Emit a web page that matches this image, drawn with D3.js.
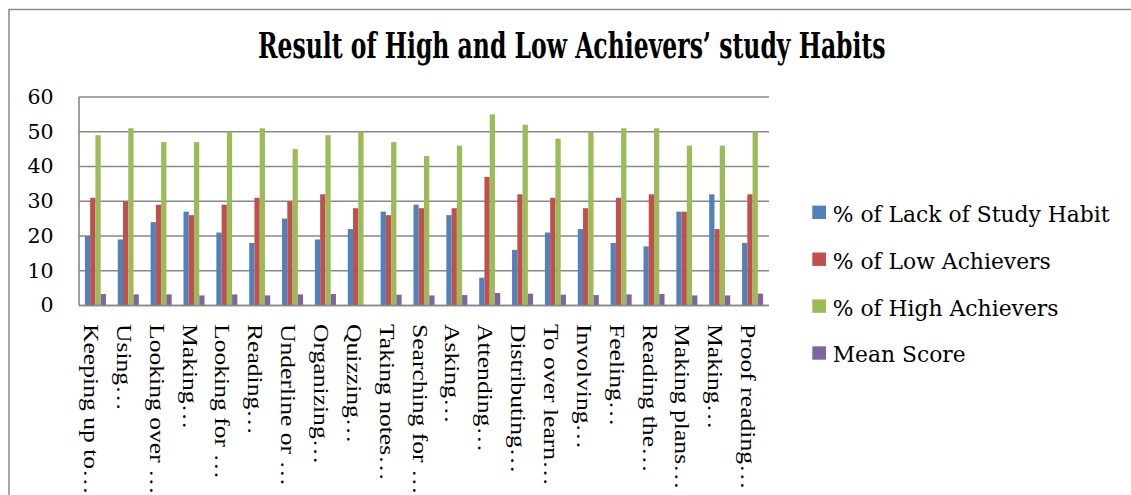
<!DOCTYPE html>
<html>
<head>
<meta charset="utf-8">
<script src="https://cdn.jsdelivr.net/npm/d3@7/dist/d3.min.js"></script>
<style>
  html, body { margin: 0; padding: 0; background: #fff; }
  svg { display: block; }
</style>
</head>
<body>
<svg id="chart" width="1131" height="495"></svg>
<script>
// Study-habit statements (truncated as in the axis)
const categories = [
  "Keeping up to…", "Using…", "Looking over …", "Making…", "Looking for …",
  "Reading…", "Underline or …", "Organizing…", "Quizzing…", "Taking notes…",
  "Searching for …", "Asking…", "Attending…", "Distributing…", "To over learn…",
  "Involving…", "Feeling…", "Reading the…", "Making plans…", "Making…",
  "Proof reading…"
];

const seriesNames = [
  "% of Lack of Study Habit",
  "% of Low Achievers",
  "% of High Achievers",
  "Mean Score"
];

const lackOfHabit = [20, 19, 24, 27, 21, 18, 25, 19, 22, 27, 29, 26, 8, 16, 21, 22, 18, 17, 27, 32, 18];
const lowAchievers = [31, 30, 29, 26, 29, 31, 30, 32, 28, 26, 28, 28, 37, 32, 31, 28, 31, 32, 27, 22, 32];
const highAchievers = [49, 51, 47, 47, 50, 51, 45, 49, 50, 47, 43, 46, 55, 52, 48, 50, 51, 51, 46, 46, 50];
const meanScore = [3.3, 3.2, 3.2, 2.9, 3.2, 2.9, 3.2, 3.3, null, 3.1, 2.9, 3.0, 3.6, 3.4, 3.1, 3.0, 3.2, 3.3, 2.9, 2.9, 3.4];

const yTicks = [0, 10, 20, 30, 40, 50, 60];

const colors = ["#4F81BD", "#C0504D", "#9BBB59", "#8064A2"];
const seriesValues = [lackOfHabit, lowAchievers, highAchievers, meanScore];

const svg = d3.select("#chart");
const serif = "'DejaVu Serif', 'Liberation Serif', serif";
const labelSerif = "'Liberation Serif', 'Times New Roman', serif";

// chart frame (left and top edges)
svg.append("path")
  .attr("d", "M9,495 V9.5 H1131")
  .attr("fill", "none")
  .attr("stroke", "#8a8a8a")
  .attr("stroke-width", 1.5);

// title, condensed to the heading width
const title = svg.append("text")
  .attr("x", 0).attr("y", 0)
  .attr("font-family", serif)
  .attr("font-weight", "bold")
  .attr("font-size", 35)
  .attr("fill", "#000")
  .text("Result of High and Low Achievers\u2019 study Habits");
{
  const w = title.node().getComputedTextLength();
  const k = 628 / w;
  title.attr("transform", `translate(${572 - 314},58.3) scale(${k},1)`);
}

const plot = { left: 79, right: 769, top: 97, bottom: 305.5 };

const x0 = d3.scaleBand()
  .domain(categories.map((d, i) => i))
  .range([plot.left, plot.right])
  .paddingInner(0.36)
  .paddingOuter(0.18);

const x1 = d3.scaleBand()
  .domain(seriesNames)
  .range([0, x0.bandwidth()]);

const y = d3.scaleLinear()
  .domain([0, 60])
  .range([plot.bottom, plot.top]);

// horizontal gridlines
svg.append("g")
  .selectAll("line")
  .data(yTicks)
  .join("line")
  .attr("x1", plot.left)
  .attr("x2", plot.right)
  .attr("y1", d => y(d))
  .attr("y2", d => y(d))
  .attr("stroke", "#888")
  .attr("stroke-width", 1.6);

// value axis line
svg.append("line")
  .attr("x1", plot.left).attr("x2", plot.left)
  .attr("y1", plot.top).attr("y2", plot.bottom)
  .attr("stroke", "#888")
  .attr("stroke-width", 1.6);

// value axis labels
svg.append("g")
  .selectAll("text")
  .data(yTicks)
  .join("text")
  .attr("x", 53.5)
  .attr("y", d => y(d) + 6.8)
  .attr("text-anchor", "end")
  .attr("font-family", serif)
  .attr("font-size", 20.5)
  .attr("fill", "#000")
  .text(d => d);

// bars
const groups = svg.append("g")
  .selectAll("g")
  .data(categories.map((c, i) => i))
  .join("g")
  .attr("transform", i => `translate(${x0(i)},0)`);

groups.selectAll("rect")
  .data(i => seriesNames.map((s, j) => ({ s, j, v: seriesValues[j][i] })).filter(d => d.v != null))
  .join("rect")
  .attr("x", d => x1(d.s))
  .attr("width", x1.bandwidth())
  .attr("y", d => y(d.v))
  .attr("height", d => y(0) - y(d.v))
  .attr("fill", d => colors[d.j]);

// zero line drawn over the bar bases
svg.append("line")
  .attr("x1", plot.left).attr("x2", plot.right)
  .attr("y1", y(0)).attr("y2", y(0))
  .attr("stroke", "#888")
  .attr("stroke-width", 1.6);

// category labels, rotated to read downwards
svg.append("g")
  .selectAll("text")
  .data(categories)
  .join("text")
  .attr("transform", (d, i) => `translate(${x0(i) + x0.bandwidth() / 2 - 11.5},324) rotate(90) scale(1.25,1)`)
  .attr("font-family", labelSerif)
  .attr("font-size", 20.5)
  .attr("fill", "#000")
  .text(d => d);

// legend
const legend = svg.append("g");
const rows = legend.selectAll("g")
  .data(seriesNames)
  .join("g")
  .attr("transform", (d, i) => `translate(812.3,${212.3 + i * 46.9})`);

rows.append("rect")
  .attr("x", 0).attr("y", -6.7)
  .attr("width", 13.7).attr("height", 13.4)
  .attr("fill", (d, i) => colors[i]);

const legendTexts = rows.append("text")
  .attr("font-family", serif)
  .attr("font-size", 23)
  .attr("fill", "#000")
  .text(d => d);
{
  const w = legendTexts.node().getComputedTextLength();
  const k = 277 / w;
  legendTexts.attr("transform", `translate(20.4,9.4) scale(${k},1)`);
}
</script>
</body>
</html>
